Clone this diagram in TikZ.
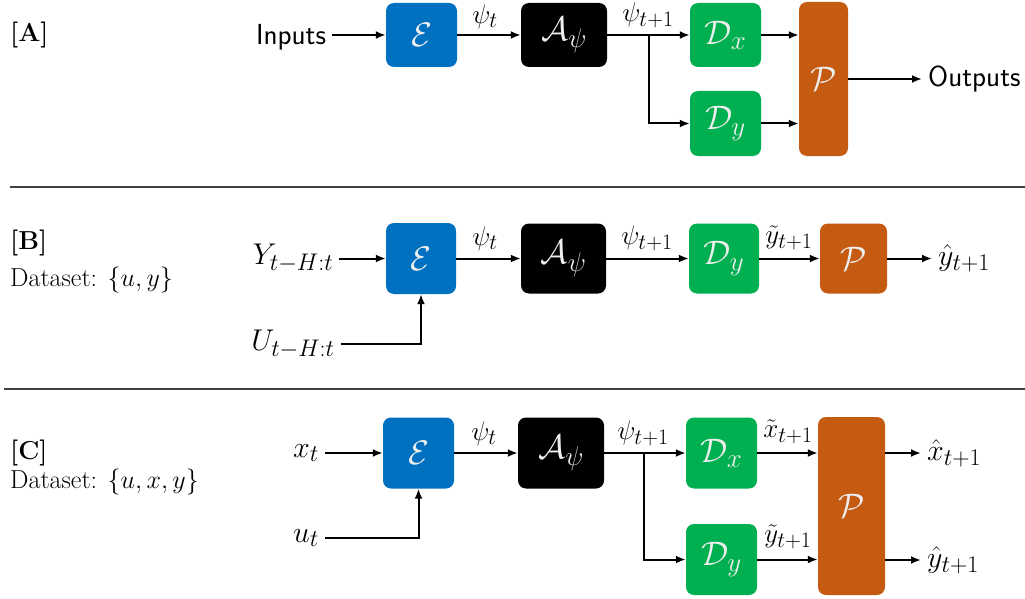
\RequirePackage{fix-cm}
\documentclass[tikz,border=0pt]{standalone}
\usepackage{amsmath}
\usetikzlibrary{arrows.meta}
\DeclareMathSizes{34}{34}{27}{20}
\DeclareMathSizes{30}{30}{24}{18}
\DeclareMathSizes{27}{27}{22}{16}
\DeclareMathSizes{26}{26}{19}{14}
\definecolor{encblue}{HTML}{0070C0}
\definecolor{decgreen}{HTML}{00B050}
\definecolor{porange}{HTML}{C55A11}
\definecolor{boxtxt}{HTML}{EEEEEE}
\definecolor{sepgray}{HTML}{404040}
\begin{document}
\begin{tikzpicture}[x=1pt,y=-1pt,
  blk/.style={rounded corners=8pt, inner sep=0pt, draw=none, text=boxtxt, font=\fontsize{34}{40}\selectfont},
  enc/.style={blk, fill=encblue},
  adv/.style={blk, fill=black},
  dec/.style={blk, fill=decgreen},
  prj/.style={blk, fill=porange},
  lbl/.style={font=\fontsize{27}{32}\selectfont, inner sep=0pt},
  io/.style={font=\fontsize{30}{36}\selectfont, inner sep=6pt},
  hand/.style={font=\sffamily\fontsize{29}{34}\selectfont, inner sep=6pt},
  ttl/.style={font=\fontsize{26}{30}\selectfont, inner sep=0pt, anchor=west},
  arr/.style={line width=2pt, -{Latex[length=10pt,width=8pt]}},
  sep/.style={line width=1.1pt, draw=sepgray},
]
\useasboundingbox (0,0) rectangle (1025,599);

% ---------- separators ----------
\coordinate (s1a) at (10,187);  \coordinate (s1b) at (1025,187);
\coordinate (s2a) at (4,389);   \coordinate (s2b) at (1025,389);
\draw[sep] (s1a) -- (s1b);
\draw[sep] (s2a) -- (s2b);

% ---------- Panel A ----------
\node[ttl] (tA) at (10,35) {\bfseries [A]};
\node[hand] (inA) at (291,37) {Inputs};
\node[enc, minimum width=71pt, minimum height=64pt] (eA) at (421.5,35) {$\mathcal{E}$};
\node[adv, minimum width=86pt, minimum height=64pt] (aA) at (564,35) {$\mathcal{A}_\psi$};
\node[dec, minimum width=71pt, minimum height=64pt] (dxA) at (725.5,35) {$\mathcal{D}_x$};
\node[dec, minimum width=71pt, minimum height=65pt] (dyA) at (725.5,123.5) {$\mathcal{D}_y$};
\node[prj, minimum width=49pt, minimum height=154pt] (pA) at (823.5,79) {$\mathcal{P}$};
\node[hand, anchor=west] (outA) at (922,79) {Outputs};
\coordinate (brA) at (649,35);
\draw[arr] (inA.east |- eA) -- (eA);
\draw[arr] (eA) -- (aA);
\draw[arr] (aA) -- (dxA);
\draw[arr] (brA) |- (dyA);
\draw[arr] (dxA.east) -- (dxA.east -| pA.west);
\draw[arr] (dyA.east) -- (dyA.east -| pA.west);
\draw[arr] (pA) -- (outA);
\node[lbl] (lA1) at (485,17) {$\psi_t$};
\node[lbl] (lA2) at (648,15) {$\psi_{t+1}$};

% ---------- Panel B ----------
\node[ttl] (tB) at (10,243) {\bfseries [B]};
\node[ttl] (dsB) at (10,280) {Dataset: $\{u,y\}$};
\node[io] (yB) at (293,258.5) {$Y_{t-H:t}$};
\node[io] (uB) at (293,344) {$U_{t-H:t}$};
\node[enc, minimum width=70pt, minimum height=71pt] (eB) at (421,258.5) {$\mathcal{E}$};
\node[adv, minimum width=85pt, minimum height=70pt] (aB) at (563.5,258.5) {$\mathcal{A}_\psi$};
\node[dec, minimum width=70pt, minimum height=70pt] (dyB) at (724,258.5) {$\mathcal{D}_y$};
\node[prj, minimum width=67pt, minimum height=70pt] (pB) at (853.5,258.5) {$\mathcal{P}$};
\node[io, anchor=west] (oB) at (932,258.5) {$\hat{y}_{t+1}$};
\draw[arr] (yB) -- (eB);
\draw[arr] (uB) -| (eB);
\draw[arr] (eB) -- (aB);
\draw[arr] (aB) -- (dyB);
\draw[arr] (dyB) -- (pB);
\draw[arr] (pB) -- (oB);
\node[lbl] (lB1) at (485,239) {$\psi_t$};
\node[lbl] (lB2) at (647,238) {$\psi_{t+1}$};
\node[lbl] (lB3) at (789,238) {$\tilde{y}_{t+1}$};

% ---------- Panel C ----------
\node[ttl] (tC) at (10,453) {\bfseries [C]};
\node[ttl] (dsC) at (10,482) {Dataset: $\{u,x,y\}$};
\node[io] (xC) at (306,453) {$x_t$};
\node[io] (uC) at (306,538) {$u_t$};
\node[enc, minimum width=71pt, minimum height=71pt] (eC) at (418.5,453) {$\mathcal{E}$};
\node[adv, minimum width=86pt, minimum height=71pt] (aC) at (561,453) {$\mathcal{A}_\psi$};
\node[dec, minimum width=71pt, minimum height=71pt] (dxC) at (721.5,453) {$\mathcal{D}_x$};
\node[dec, minimum width=71pt, minimum height=71pt] (dyC) at (721.5,559.5) {$\mathcal{D}_y$};
\node[prj, minimum width=67pt, minimum height=178pt] (pC) at (851.5,506) {$\mathcal{P}$};
\node[io, anchor=west] (oxC) at (921,453) {$\hat{x}_{t+1}$};
\node[io, anchor=west] (oyC) at (921,560) {$\hat{y}_{t+1}$};
\coordinate (brC) at (644,453);
\draw[arr] (xC) -- (eC);
\draw[arr] (uC) -| (eC);
\draw[arr] (eC) -- (aC);
\draw[arr] (aC) -- (dxC);
\draw[arr] (brC) |- (dyC);
\draw[arr] (dxC.east) -- (dxC.east -| pC.west);
\draw[arr] (dyC.east) -- (dyC.east -| pC.west);
\draw[arr] (oxC -| pC.east) -- (oxC);
\draw[arr] (oyC -| pC.east) -- (oyC);
\node[lbl] (lC1) at (484,434) {$\psi_t$};
\node[lbl] (lC2) at (643,433) {$\psi_{t+1}$};
\node[lbl] (lC3) at (788,432) {$\tilde{x}_{t+1}$};
\node[lbl] (lC4) at (788,537) {$\tilde{y}_{t+1}$};
\end{tikzpicture}
\end{document}
